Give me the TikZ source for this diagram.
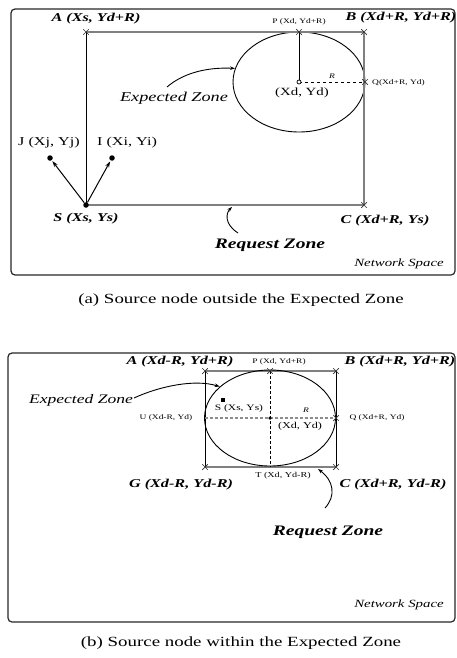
\documentclass[tikz,border=0pt]{standalone}
\usepackage{fontspec}
\setmainfont{Liberation Serif}[FakeStretch=1.35]
\usetikzlibrary{shapes.geometric,shapes.misc,arrows.meta}
\begin{document}
\begin{tikzpicture}[x=1pt,y=-1pt,
  frame/.style={draw=black!85,line width=1.2pt,rounded corners=4pt},
  grayline/.style={draw=black!50,line width=2pt},
  blackline/.style={draw=black,line width=0.9pt},
  zone/.style={draw=black,line width=0.9pt,ellipse,inner sep=0pt},
  xmark/.style={draw=black!80,cross out,minimum size=5pt,inner sep=0pt,line width=0.7pt},
  dot/.style={circle,fill=black,minimum size=5.5pt,inner sep=0pt},
  lab/.style={font=\fontsize{12}{12}\selectfont\bfseries\itshape,inner sep=0pt},
  tiny/.style={font=\fontsize{7}{7}\selectfont,inner sep=0pt},
  mid/.style={font=\fontsize{11}{11}\selectfont,inner sep=0pt},
  zonelab/.style={font=\fontsize{13.5}{13.5}\selectfont\itshape,inner sep=0pt},
  reqlab/.style={font=\fontsize{14.5}{14.5}\selectfont\bfseries\itshape,inner sep=0pt},
  netlab/.style={font=\fontsize{11}{11}\selectfont\itshape,inner sep=0pt},
  caption/.style={font=\fontsize{14}{14}\selectfont,inner sep=0pt},
  carr/.style={draw=black,line width=0.9pt,-{Stealth[length=5pt,width=3.5pt]}},
  sarr/.style={draw=black,line width=1pt,-{Stealth[length=6pt,width=4pt]},shorten >=1pt}
]
\useasboundingbox (0,0) rectangle (457,658);

% ================= Panel (a) =================
\draw[frame] (11,9) rectangle (455,275);
\coordinate (aA) at (86,32);
\coordinate (aB) at (364,32);
\coordinate (aC) at (364,205);
\coordinate (aP) at (299,32);
\coordinate (aQ) at (365,82);
\coordinate (aD) at (299,82);
\node[zone,minimum width=132pt,minimum height=100pt] (aEz) at (aD) {};
\draw[grayline] (aA) -- (aB);
\draw[grayline] (86,205) -- (aC);
\draw[grayline,line width=1.6pt] (aB) -- (aC);
\node[dot] (aS) at (86,205) {};
\draw[blackline] (aA) -- (aS.center);
\draw[black,line width=0.8pt] (aP) -- (aD);
\draw[black,line width=0.8pt,dashed] (aD) -- (aQ);
\node[circle,draw=black,fill=white,minimum size=4pt,inner sep=0pt,line width=0.7pt] (aDm) at (aD) {};
\node[xmark] (aAx) at (aA) {};
\node[xmark] (aBx) at (aB) {};
\node[xmark] (aCx) at (aC) {};
\node[xmark] (aPx) at (aP) {};
\node[xmark] (aQx) at (aQ) {};
\node[dot] (aJ) at (50,158) {};
\node[dot] (aI) at (112,158) {};
\draw[sarr] (aS) -- (aJ);
\draw[sarr] (aS) -- (aI);

\node[lab] (aAl) at (96,19) {A (Xs, Yd+R)};
\node[lab] (aBl) at (401,18) {B (Xd+R, Yd+R)};
\node[tiny] (aPl) at (299,22) {P (Xd, Yd+R)};
\node[tiny,anchor=west] (aQl) at (372,83) {Q(Xd+R, Yd)};
\node[font=\fontsize{7}{7}\selectfont\itshape,inner sep=0pt] (aRl) at (332,76) {R};
\node[mid] (aDl) at (302,93) {(Xd, Yd)};
\node[zonelab] (aEl) at (174,98) {Expected Zone};
\node[font=\fontsize{12}{12}\selectfont,inner sep=0pt] (aJl) at (49,143) {J (Xj, Yj)};
\node[font=\fontsize{12}{12}\selectfont,inner sep=0pt] (aIl) at (127,143) {I (Xi, Yi)};
\node[lab] (aSl) at (86,219) {S (Xs, Ys)};
\node[lab] (aCl) at (385,221) {C (Xd+R, Ys)};
\node[reqlab] (aRq) at (270,245) {Request Zone};
\node[netlab] (aNs) at (399,264) {Network Space};
\node[caption] (aCap) at (241,300) {(a) Source node outside the Expected Zone};

\coordinate (aEs) at (167,87);
\draw[carr] (aEs) .. controls (182,74) and (205,67) .. (aEz.168);
\coordinate (aRs) at (238,233);
\coordinate (aRe) at (232,207);
\draw[carr] (aRs) .. controls (224,224) and (226,213) .. (aRe);

% ================= Panel (b) =================
\draw[frame] (8,353) rectangle (455,622);
\coordinate (bA) at (205,371);
\coordinate (bB) at (336,371);
\coordinate (bC) at (336,467);
\coordinate (bG) at (205,467);
\coordinate (bP) at (270,371);
\coordinate (bT) at (270,467);
\coordinate (bU) at (205,418);
\coordinate (bQ) at (336,418);
\coordinate (bD) at (270,418);
\draw[grayline,line width=1.6pt] (bA) -- (bB);
\draw[grayline] (bG) -- (bC);
\draw[blackline] (bA) -- (bG);
\draw[blackline] (bB) -- (bC);
\node[zone,minimum width=131pt,minimum height=96pt] (bEz) at (bD) {};
\draw[black,line width=0.8pt,densely dashed] (bP) -- (bT);
\draw[black!45,line width=1.5pt,dash pattern=on 3pt off 2pt] (bU) -- (bQ);
\node[circle,fill=black,minimum size=3.5pt,inner sep=0pt] (bDm) at (bD) {};
\node[xmark] (bAx) at (bA) {};
\node[xmark] (bBx) at (bB) {};
\node[xmark] (bCx) at (bC) {};
\node[xmark] (bGx) at (bG) {};
\node[xmark] (bPx) at (bP) {};
\node[xmark] (bQx) at (bQ) {};
\node[rectangle,fill=black,minimum size=4.5pt,inner sep=0pt] (bS) at (223,400) {};

\node[lab] (bAl) at (180,362) {A (Xd-R, Yd+R)};
\node[tiny] (bPl) at (279,362) {P (Xd, Yd+R)};
\node[lab] (bBl) at (400,362) {B (Xd+R, Yd+R)};
\node[tiny] (bUl) at (166,418) {U (Xd-R, Yd)};
\node[tiny] (bQl) at (377,418) {Q (Xd+R, Yd)};
\node[font=\fontsize{8.5}{8.5}\selectfont,inner sep=0pt] (bSl) at (239,408) {S (Xs, Ys)};
\node[font=\fontsize{7}{7}\selectfont\itshape,inner sep=0pt] (bRl) at (306,410) {R};
\node[font=\fontsize{9}{9}\selectfont,inner sep=0pt] (bDl) at (300,426) {(Xd, Yd)};
\node[lab] (bGl) at (181,485) {G (Xd-R, Yd-R)};
\node[font=\fontsize{7.5}{7.5}\selectfont,inner sep=0pt] (bTl) at (283,476) {T (Xd, Yd-R)};
\node[lab] (bCl) at (393,485) {C (Xd+R, Yd-R)};
\node[zonelab,font=\fontsize{13}{13}\selectfont\itshape] (bEl) at (81,400) {Expected Zone};
\node[reqlab] (bRq) at (328,532) {Request Zone};
\node[netlab] (bNs) at (399,605) {Network Space};
\node[caption] (bCap) at (241,643) {(b) Source node within the Expected Zone};

\coordinate (bEs) at (134,398);
\draw[carr] (bEs) .. controls (160,386) and (195,379) .. (bEz.148);
\coordinate (bRs) at (325,508);
\coordinate (bRe) at (318,469);
\draw[carr] (bRs) .. controls (336,496) and (334,481) .. (bRe);
\end{tikzpicture}
\end{document}
